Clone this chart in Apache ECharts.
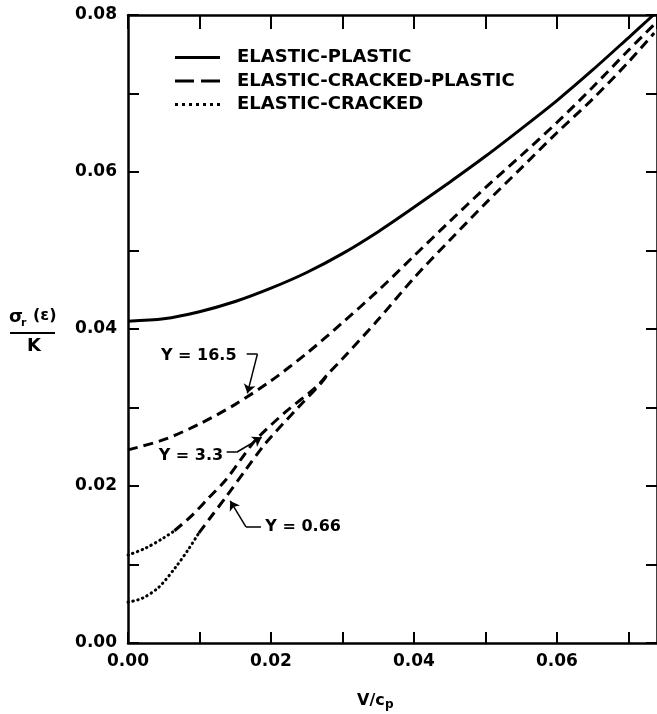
<!DOCTYPE html>
<html>
<head>
<meta charset="utf-8">
<script src="https://cdn.jsdelivr.net/npm/echarts@6/dist/echarts.min.js"></script>
<style>html,body{margin:0;padding:0;background:#fff}#c{width:657px;height:714px}</style>
</head>
<body>
<div id="c"></div>
<script>
// ---- data ----
const epX = [0,0.005,0.01,0.015,0.02,0.025,0.03,0.035,0.04,0.045,0.05,0.055,0.06,0.065,0.07,0.0735];
const epY = [0.0410,0.0413,0.0422,0.0435,0.0452,0.0472,0.0496,0.0524,0.0555,0.0587,0.0620,0.0655,0.0691,0.0730,0.0771,0.0800];

const y165X = [0,0.005,0.01,0.015,0.02,0.025,0.03,0.035,0.04,0.045,0.05,0.055,0.06,0.065,0.07,0.0735];
const y165Y = [0.0246,0.0259,0.0279,0.0304,0.0334,0.0369,0.0408,0.0449,0.0493,0.0537,0.0580,0.0621,0.0663,0.0708,0.0755,0.0787];

const y33DotX = [0,0.0025,0.005,0.0065];
const y33DotY = [0.0112,0.0121,0.0134,0.0143];
const y33DashX = [0.0065,0.009,0.0113,0.0137,0.0158,0.0179,0.022,0.0263,0.028];
const y33DashY = [0.0143,0.0163,0.0185,0.0208,0.0234,0.0259,0.0294,0.0326,0.0343];

const y066DotX = [0,0.002,0.0043,0.0067,0.0085,0.0099];
const y066DotY = [0.0052,0.0057,0.0071,0.0097,0.0120,0.0140];
const y066DashX = [0.0099,0.0113,0.0137,0.0165,0.0193,0.0239,0.0270,0.028];
const y066DashY = [0.0140,0.0157,0.0186,0.0221,0.0255,0.0301,0.0331,0.0343];

const mergedX = [0.028,0.03,0.035,0.04,0.045,0.05,0.055,0.06,0.065,0.07,0.0736];
const mergedY = [0.0343,0.0362,0.0412,0.0465,0.0513,0.0560,0.0605,0.0650,0.0693,0.0740,0.0777];

const legendNames = ['ELASTIC-PLASTIC','ELASTIC-CRACKED-PLASTIC','ELASTIC-CRACKED'];
const annoText = ['Y = 16.5','Y = 3.3','Y = 0.66'];
const annoPos = [[0.0099,0.0366],[0.0088,0.0239],[0.0245,0.0148]];
const leaderPaths = [
  [[0.0166,0.0368],[0.0181,0.0368],[0.0167,0.0318]],
  [[0.0138,0.0243],[0.0152,0.0243],[0.0187,0.0262]],
  [[0.0186,0.0148],[0.0165,0.0148],[0.0143,0.0181]]
];
const xMin = 0, xMax = 0.074, xStep = 0.01;
const yMin = 0, yMax = 0.08, yStep = 0.01;

// ---- build ----
const zip = (xs, ys) => xs.map((x, i) => [x, ys[i]]);
const F = 'DejaVu Sans';
const BLACK = '#000';
const dashed = [10, 6];
const dotted = [0.5, 4.5];

function lineSeries(name, data, type, width) {
  return {
    type: 'line', name, data, smooth: 0.3, symbol: 'none', silent: true,
    lineStyle: { color: BLACK, width: width || 3, type: type, cap: type === dotted ? 'round' : 'butt' },
    itemStyle: { color: BLACK }
  };
}

const evenLabel = v => { const k = Math.round(v * 100); return k % 2 === 0 ? (k / 100).toFixed(2) : ''; };
const axLine = { show: true, onZero: false, lineStyle: { color: BLACK, width: 2.5 } };
const axTick = { show: true, inside: true, length: 11, lineStyle: { color: BLACK, width: 2 } };
const lab = { color: BLACK, fontFamily: F, fontWeight: 'bold', fontSize: 17 };

const markData = [];
leaderPaths.forEach(p => {
  markData.push([{ coord: p[0], symbol: 'none' }, { coord: p[1], symbol: 'none' }]);
  markData.push([{ coord: p[1], symbol: 'none' }, { coord: p[2], symbol: 'arrow' }]);
});

// legend icon shapes (45 x 3 box)
let dots = '';
for (let i = 0; i < 7; i++) { const x = i * 7; dots += 'M' + x + ',0h3v3h-3z '; }
const iconSolid = 'path://M0,0H45V3H0Z';
const iconDash = 'path://M0,0H19V3H0Z M26,0H45V3H26Z';
const iconDot = 'path://' + dots.trim();

const option = {
  animation: false,
  backgroundColor: '#fff',
  grid: { left: 128, right: 0, top: 15, bottom: 71, containLabel: false },
  xAxis: [
    { type: 'value', min: xMin, max: xMax, interval: xStep, position: 'bottom',
      axisLine: axLine, axisTick: axTick, splitLine: { show: false },
      axisLabel: Object.assign({ formatter: evenLabel, showMaxLabel: false, margin: 10 }, lab) },
    { type: 'value', min: xMin, max: xMax, interval: xStep, position: 'top',
      axisLine: axLine, axisTick: Object.assign({}, axTick, { length: 14 }), splitLine: { show: false }, axisLabel: { show: false } }
  ],
  yAxis: [
    { type: 'value', min: yMin, max: yMax, interval: yStep, position: 'left',
      axisLine: axLine, axisTick: axTick, splitLine: { show: false },
      axisLabel: Object.assign({ formatter: evenLabel, margin: 11 }, lab) },
    { type: 'value', min: yMin, max: yMax, interval: yStep, position: 'right',
      axisLine: axLine, axisTick: axTick, splitLine: { show: false }, axisLabel: { show: false } }
  ],
  legend: {
    orient: 'vertical', left: 170, top: 43, itemWidth: 45, itemHeight: 3, itemGap: 4.5,
    selectedMode: false,
    itemStyle: { color: BLACK, borderWidth: 0 },
    textStyle: { fontFamily: F, fontWeight: 'bold', fontSize: 18, color: BLACK, lineHeight: 19, padding: [0, 0, 0, 12] },
    data: [
      { name: legendNames[0], icon: iconSolid },
      { name: legendNames[1], icon: iconDash },
      { name: legendNames[2], icon: iconDot }
    ]
  },
  series: [
    lineSeries(legendNames[0], zip(epX, epY), 'solid', 3),
    lineSeries(legendNames[1], zip(y165X, y165Y), dashed),
    lineSeries(legendNames[1], zip(y33DashX, y33DashY).concat(zip(mergedX, mergedY).slice(1)), dashed),
    lineSeries(legendNames[1], zip(y066DashX, y066DashY), dashed),
    lineSeries(legendNames[2], zip(y33DotX, y33DotY), dotted),
    lineSeries(legendNames[2], zip(y066DotX, y066DotY), dotted),
    {
      type: 'scatter', name: 'annotations', silent: true, symbolSize: 1,
      itemStyle: { color: 'rgba(255,255,255,0)' },
      data: annoPos.map((p, i) => ({ value: p, label: { formatter: annoText[i] } })),
      label: { show: true, position: 'inside', color: BLACK, opacity: 1, textBorderWidth: 0,
               fontFamily: F, fontWeight: 'bold', fontSize: 16 },
      markLine: {
        silent: true, animation: false, symbolSize: 9,
        lineStyle: { color: BLACK, width: 1.5, type: 'solid' },
        label: { show: false },
        data: markData
      }
    }
  ],
  graphic: [
    { type: 'text', left: 9, top: 308, style: { text: 'σ', font: 'bold 18px "DejaVu Sans"', fill: BLACK } },
    { type: 'text', left: 21, top: 318, style: { text: 'r', font: 'bold 11px "DejaVu Sans"', fill: BLACK } },
    { type: 'text', left: 33, top: 308, style: { text: '(ε)', font: 'bold 16px "DejaVu Sans"', fill: BLACK } },
    { type: 'rect', shape: { x: 10, y: 332, width: 45, height: 2 }, style: { fill: BLACK } },
    { type: 'text', left: 27, top: 337, style: { text: 'K', font: 'bold 18px "DejaVu Sans"', fill: BLACK } },
    { type: 'text', left: 357, top: 693, style: { text: 'V/c', font: 'bold 16px "DejaVu Sans"', fill: BLACK } },
    { type: 'text', left: 385, top: 699, style: { text: 'p', font: 'bold 12px "DejaVu Sans"', fill: BLACK } }
  ]
};

const chart = echarts.init(document.getElementById('c'), null, { renderer: 'canvas' });
chart.setOption(option);
</script>
</body>
</html>
